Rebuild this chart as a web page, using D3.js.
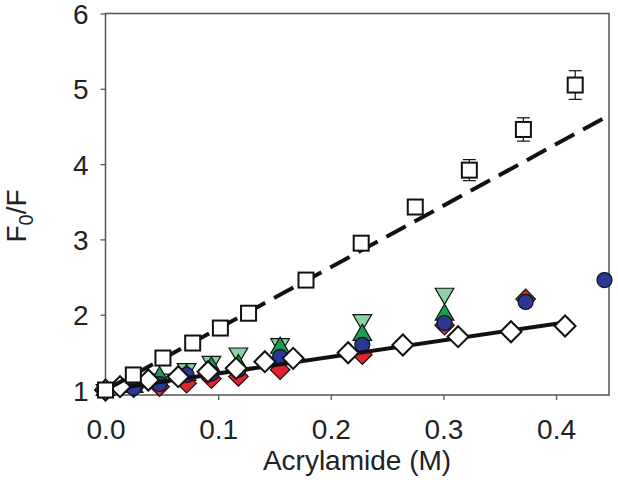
<!DOCTYPE html>
<html><head><meta charset="utf-8">
<script src="https://cdn.jsdelivr.net/npm/d3@7/dist/d3.min.js"></script>
<style>body{margin:0;background:#fff}svg{display:block}text{font-family:"Liberation Sans",Arial,Helvetica,sans-serif;fill:#222}</style>
</head><body><div id="c"></div>
<script>
// ---- data ----
const xTicks = [0.0, 0.1, 0.2, 0.3, 0.4];
const yTicks = [1, 2, 3, 4, 5, 6];
// open squares (dashed fit)
const sqX   = [0, 0.0247, 0.051, 0.0774, 0.102, 0.127, 0.178, 0.227, 0.275, 0.323, 0.371, 0.417];
const sqY   = [1, 1.20, 1.425, 1.624, 1.823, 2.02, 2.46, 2.95, 3.43, 3.92, 4.46, 5.05];
const sqErr = [0, 0, 0, 0, 0, 0, 0, 0, 0, 0.14, 0.155, 0.19];
// open diamonds (solid fit)
const dmX = [0, 0.0129, 0.038, 0.0646, 0.091, 0.116, 0.1415, 0.1666, 0.2154, 0.264, 0.313, 0.360, 0.408];
const dmY = [1, 1.044, 1.133, 1.177, 1.243, 1.288, 1.376, 1.421, 1.495, 1.598, 1.708, 1.774, 1.85];
// coloured series
const redX = [0, 0.025, 0.048, 0.072, 0.094, 0.118, 0.155, 0.228, 0.301, 0.373];
const redY = [1, 1.03, 1.045, 1.09, 1.15, 1.18, 1.27, 1.47, 1.86, 2.21];
const ltgX = [0, 0.025, 0.048, 0.072, 0.094, 0.118, 0.155, 0.228, 0.301];
const ltgY = [1, 1.05, 1.14, 1.28, 1.376, 1.487, 1.61, 1.93, 2.28];
const dkgX = [0, 0.025, 0.048, 0.072, 0.094, 0.118, 0.155, 0.228, 0.301];
const dkgY = [1, 1.04, 1.17, 1.20, 1.30, 1.33, 1.56, 1.73, 2.0];
const bluX = [0, 0.025, 0.048, 0.072, 0.094, 0.118, 0.155, 0.228, 0.301, 0.373, 0.443];
const bluY = [1, 1.03, 1.08, 1.20, 1.22, 1.27, 1.44, 1.60, 1.89, 2.17, 2.46];
// linear fits  y = 1 + K*x
const fitDashK = 8.16, fitDashX = [0, 0.447];
const fitSolidK = 2.2, fitSolidX = [0, 0.408];

// ---- chart ----
const W = 618, H = 480;
const svg = d3.select("#c").append("svg").attr("width", W).attr("height", H);
const x = d3.scaleLinear().domain([0, 0.447]).range([105.5, 609]);
const y = d3.scaleLinear().domain([0.934, 6]).range([395, 13.5]);

const axCol = "#555";
// frame
svg.append("rect").attr("x", x(0)).attr("y", y(6)).attr("width", x(0.447) - x(0)).attr("height", y(0.934) - y(6))
  .attr("fill", "none").attr("stroke", axCol).attr("stroke-width", 1.5);

const xAxis = svg.append("g").attr("transform", `translate(0,${y(0.934)})`)
  .call(d3.axisBottom(x).tickValues(xTicks).tickFormat(d3.format(".1f")).tickSize(5).tickPadding(19));
const yAxis = svg.append("g").attr("transform", `translate(${x(0)},0)`)
  .call(d3.axisLeft(y).tickValues(yTicks).tickFormat(d3.format("d")).tickSize(5).tickPadding(12));
[xAxis, yAxis].forEach(g => {
  g.select(".domain").remove();
  g.selectAll("line").attr("stroke", axCol).attr("stroke-width", 1.3);
  g.selectAll("text").style("font-size", "28px").attr("fill", "#222")
   .style("font-family", '"Liberation Sans",Arial,sans-serif');
});
yAxis.selectAll("text").attr("dy", "0.36em");

// axis titles
svg.append("text").attr("x", 357).attr("y", 470).attr("text-anchor", "middle")
  .style("font-size", "28px").text("Acrylamide (M)");
const yl = svg.append("text").attr("transform", "translate(26,216) rotate(-90)").attr("text-anchor", "middle")
  .style("font-size", "28px");
yl.append("tspan").text("F");
yl.append("tspan").attr("dy", 7).style("font-size", "20px").text("0");
yl.append("tspan").attr("dy", -7).text("/F");

const line = d3.line().x(d => x(d[0])).y(d => y(d[1]));
const zip = (a, b) => a.map((v, i) => [v, b[i]]);

// coloured markers
const g = svg.append("g");
g.selectAll(".red").data(zip(redX, redY)).join("path")
  .attr("d", d3.symbol(d3.symbolSquare, 190))
  .attr("transform", d => `translate(${x(d[0])},${y(d[1])}) rotate(45)`)
  .attr("fill", "#e3232c").attr("stroke", "#111").attr("stroke-width", 1.2);
g.selectAll(".ltg").data(zip(ltgX, ltgY)).join("path")
  .attr("d", d3.symbol(d3.symbolTriangle, 150))
  .attr("transform", d => `translate(${x(d[0])},${y(d[1])}) rotate(180)`)
  .attr("fill", "#86d3a3").attr("stroke", "#111").attr("stroke-width", 1.2);
g.selectAll(".dkg").data(zip(dkgX, dkgY)).join("path")
  .attr("d", d3.symbol(d3.symbolTriangle, 150))
  .attr("transform", d => `translate(${x(d[0])},${y(d[1])})`)
  .attr("fill", "#17a050").attr("stroke", "#111").attr("stroke-width", 1.2);
g.selectAll(".blu").data(zip(bluX, bluY)).join("circle")
  .attr("cx", d => x(d[0])).attr("cy", d => y(d[1])).attr("r", 7.5)
  .attr("fill", "#2b3795").attr("stroke", "#111").attr("stroke-width", 1.2);

// solid fit + diamonds
svg.append("path").datum(fitSolidX.map(v => [v, 1 + fitSolidK * v])).attr("d", line)
  .attr("fill", "none").attr("stroke", "#111").attr("stroke-width", 4);
svg.selectAll(".dm").data(zip(dmX, dmY)).join("path")
  .attr("d", d3.symbol(d3.symbolSquare, 220))
  .attr("transform", d => `translate(${x(d[0])},${y(d[1])}) rotate(45)`)
  .attr("fill", "#fff").attr("stroke", "#111").attr("stroke-width", 2);

// dashed fit + squares
svg.append("path").datum(fitDashX.map(v => [v, 1 + fitDashK * v])).attr("d", line)
  .attr("fill", "none").attr("stroke", "#111").attr("stroke-width", 4).attr("stroke-dasharray", "22,10");
const sq = svg.selectAll(".sq").data(sqX.map((v, i) => ({x: v, y: sqY[i], e: sqErr[i]}))).join("g")
  .attr("transform", d => `translate(${x(d.x)},${y(d.y)})`);
sq.filter(d => d.e > 0).each(function(d) {
  const s = d3.select(this), h = y(d.y - d.e) - y(d.y);
  s.append("line").attr("y1", -h).attr("y2", h).attr("stroke", "#111").attr("stroke-width", 1.2);
  s.append("line").attr("x1", -6.5).attr("x2", 6.5).attr("y1", -h).attr("y2", -h).attr("stroke", "#111").attr("stroke-width", 1.2);
  s.append("line").attr("x1", -6.5).attr("x2", 6.5).attr("y1", h).attr("y2", h).attr("stroke", "#111").attr("stroke-width", 1.2);
});
sq.append("rect").attr("x", -7.5).attr("y", -7.5).attr("width", 15).attr("height", 15)
  .attr("fill", "#fff").attr("stroke", "#111").attr("stroke-width", 2);
</script></body></html>
